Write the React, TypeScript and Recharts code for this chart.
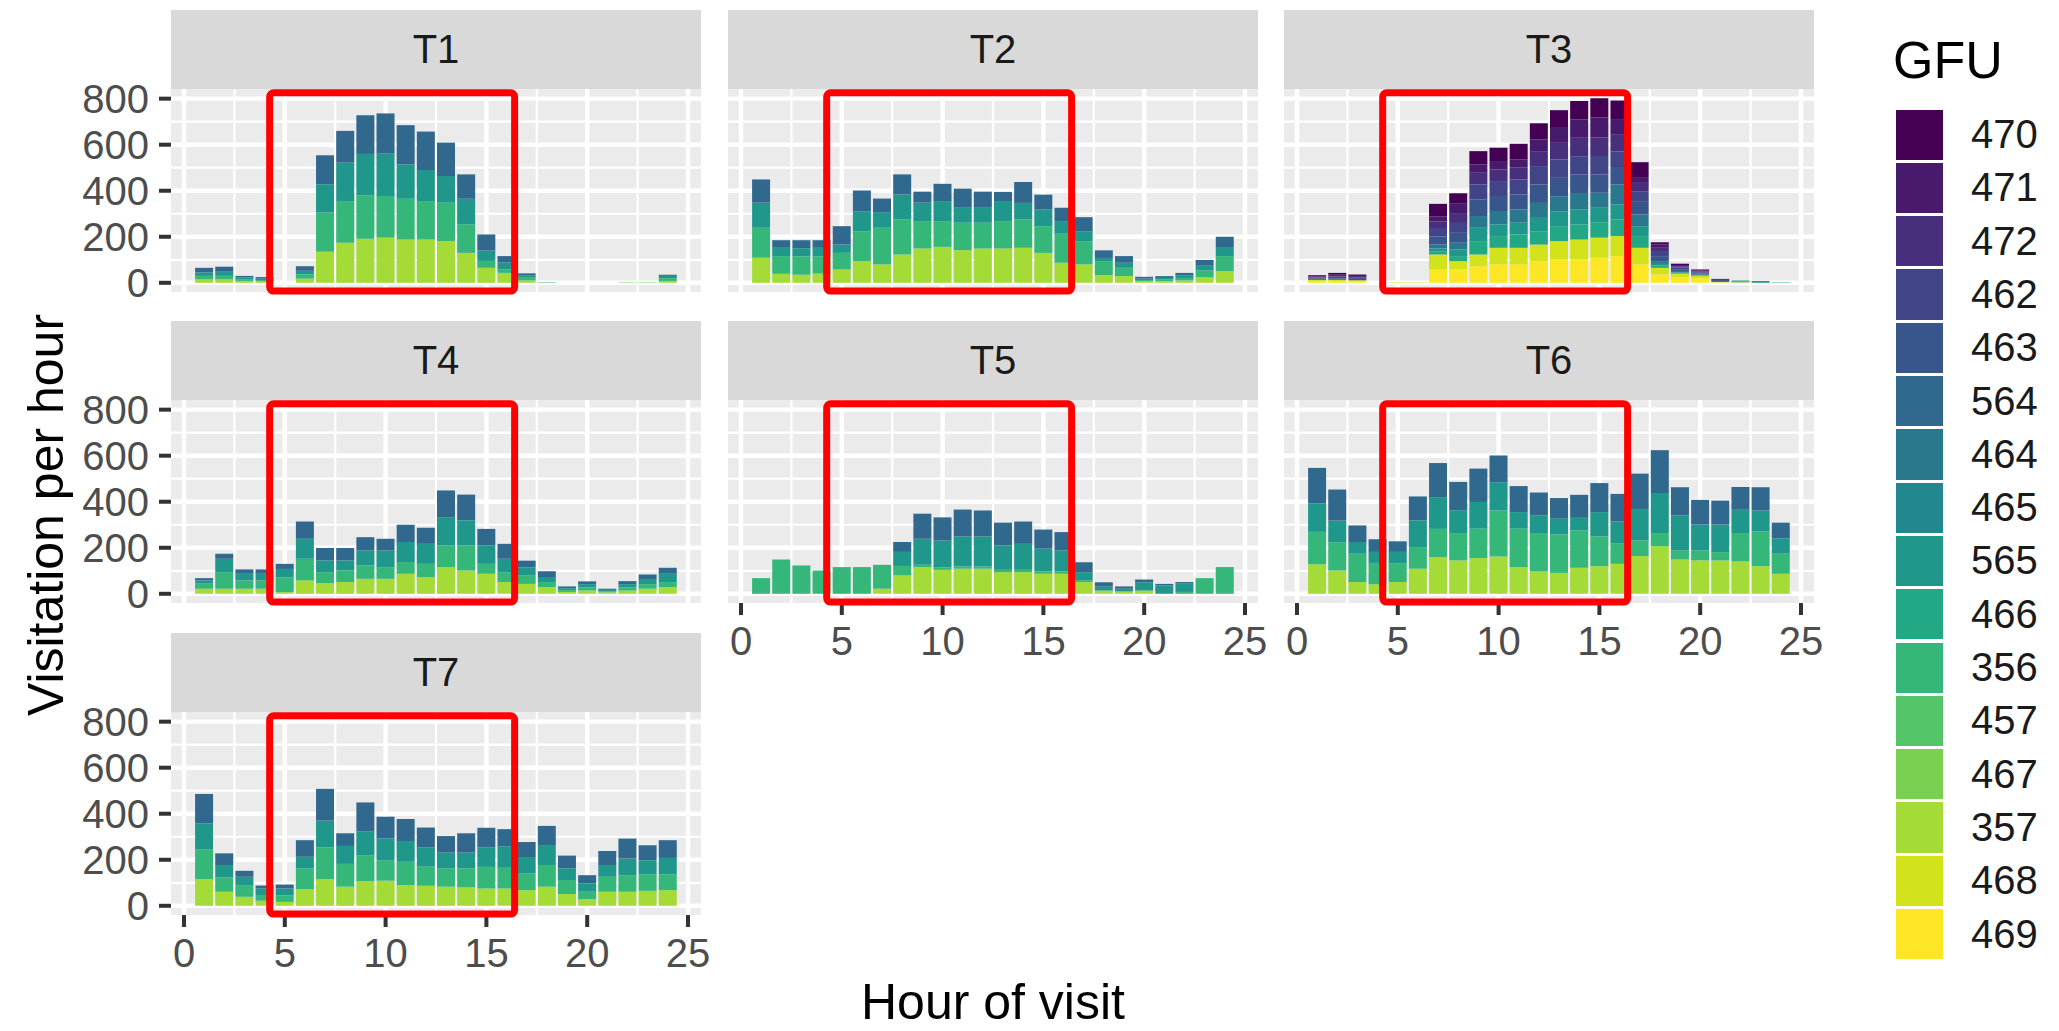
import React from 'react';
import { BarChart, Bar, XAxis, YAxis, CartesianGrid, ReferenceArea } from 'recharts';

// ---------- categories ----------
const HOURS = [1, 2, 3, 4, 5, 6, 7, 8, 9, 10, 11, 12, 13, 14, 15, 16, 17, 18, 19, 20, 21, 22, 23, 24];
const GFU_LEVELS = ['470', '471', '472', '462', '463', '564', '464', '465', '565', '466', '356', '457', '467', '357', '468', '469'];
const GFU_COLORS = ['#440154', '#481A6C', '#472F7D', '#414487', '#39568C', '#31688E', '#2A788E', '#23888E', '#1F988B', '#22A884', '#35B779', '#54C568', '#7AD151', '#A5DB36', '#D2E21B', '#FDE725'];
const PANEL_NAMES = ['T1', 'T2', 'T3', 'T4', 'T5', 'T6', 'T7'];

// ---------- tick labels ----------
const X_TICKS = [0, 5, 10, 15, 20, 25];
const X_MINOR = [2.5, 7.5, 12.5, 17.5, 22.5];
const Y_TICKS = [0, 200, 400, 600, 800];
const Y_MINOR = [100, 300, 500, 700];
const X_DOMAIN = [-0.645, 25.645];
const Y_DOMAIN = [-40, 842];
// highlighted window (data units)
const HL_X = [4.25, 16.4];
const HL_Y = [-36, 826];

// ---------- series values (visits per hour) ----------
const T1_357 = [15, 15, 8, 6, 0, 18, 135, 174, 191, 196, 188, 188, 181, 130, 65, 43, 10, 1, 0, 0, 0, 1, 1, 8];
const T1_356 = [15, 15, 8, 6, 0, 18, 170, 181, 188, 181, 177, 167, 167, 123, 30, 15, 15, 1, 0, 0, 0, 1, 1, 12];
const T1_565 = [15, 18, 7, 6, 0, 16, 123, 167, 181, 184, 149, 135, 116, 112, 45, 30, 8, 1, 0, 0, 0, 0, 0, 10];
const T1_564 = [20, 22, 7, 7, 0, 20, 126, 138, 168, 175, 171, 167, 145, 106, 70, 28, 8, 0, 0, 0, 0, 0, 0, 5];

const T2_357 = [109, 39, 35, 40, 58, 94, 80, 123, 149, 156, 142, 149, 149, 152, 130, 87, 80, 33, 29, 6, 7, 10, 24, 51];
const T2_356 = [130, 77, 80, 75, 72, 130, 159, 152, 119, 112, 119, 112, 119, 123, 116, 126, 101, 61, 36, 6, 7, 11, 30, 65];
const T2_565 = [109, 36, 35, 37, 36, 87, 68, 109, 80, 87, 68, 65, 84, 72, 72, 55, 43, 14, 22, 6, 7, 10, 20, 36];
const T2_564 = [101, 33, 35, 33, 80, 90, 59, 87, 48, 75, 80, 70, 43, 91, 65, 58, 61, 33, 29, 8, 8, 12, 25, 48];

const T3_469 = [8, 8, 6, 0, 0, 0, 58, 58, 72, 80, 80, 94, 101, 101, 109, 116, 80, 36, 25, 20, 2, 2, 0, 0];
const T3_468 = [5, 5, 5, 0, 2, 2, 65, 36, 51, 72, 72, 72, 80, 87, 87, 87, 72, 29, 15, 10, 2, 0, 0, 0];
const T3_466 = [0, 0, 0, 0, 0, 0, 14, 22, 58, 51, 58, 58, 65, 65, 65, 72, 51, 10, 3, 2, 0, 4, 0, 2];
const T3_565 = [0, 0, 0, 0, 0, 0, 12, 29, 58, 51, 51, 58, 65, 65, 65, 65, 43, 7, 3, 2, 0, 4, 4, 0];
const T3_464 = [0, 0, 0, 0, 0, 0, 17, 29, 51, 58, 58, 65, 65, 72, 65, 87, 51, 12, 5, 3, 0, 0, 4, 0];
const T3_463 = [5, 6, 6, 0, 0, 0, 36, 43, 72, 65, 65, 80, 80, 80, 80, 72, 58, 22, 8, 4, 8, 0, 0, 0];
const T3_462 = [5, 8, 7, 0, 0, 0, 36, 43, 65, 65, 65, 80, 80, 80, 80, 72, 43, 22, 8, 4, 5, 0, 0, 0];
const T3_472 = [5, 8, 6, 0, 0, 0, 29, 43, 51, 51, 51, 65, 72, 80, 80, 72, 36, 14, 5, 4, 0, 0, 0, 0];
const T3_471 = [0, 0, 0, 0, 0, 0, 22, 43, 36, 36, 36, 51, 65, 80, 87, 65, 22, 14, 5, 4, 0, 0, 0, 0];
const T3_470 = [5, 8, 6, 0, 0, 0, 54, 43, 58, 58, 68, 70, 77, 80, 84, 84, 68, 10, 6, 5, 0, 0, 0, 0];

const T4_357 = [22, 22, 22, 22, 7, 58, 46, 51, 65, 65, 87, 72, 116, 101, 87, 51, 43, 29, 8, 14, 6, 14, 22, 29];
const T4_356 = [22, 72, 36, 36, 65, 94, 48, 51, 58, 51, 51, 58, 94, 109, 43, 43, 36, 22, 8, 14, 5, 14, 20, 22];
const T4_565 = [14, 58, 29, 29, 36, 87, 51, 43, 65, 72, 87, 87, 123, 109, 80, 58, 36, 22, 8, 14, 6, 14, 22, 36];
const T4_564 = [10, 22, 19, 19, 22, 75, 54, 54, 58, 51, 75, 70, 116, 112, 72, 65, 29, 25, 8, 12, 5, 13, 20, 26];

const T5_357 = [0, 0, 0, 0, 0, 0, 22, 80, 116, 104, 109, 109, 94, 94, 87, 87, 51, 14, 10, 14, 0, 0, 0, 0];
const T5_356 = [68, 149, 123, 101, 116, 116, 104, 41, 10, 10, 10, 10, 10, 10, 10, 10, 8, 0, 0, 0, 0, 8, 68, 116];
const T5_565 = [0, 0, 0, 0, 0, 0, 0, 61, 113, 117, 130, 130, 106, 113, 99, 91, 35, 17, 12, 36, 36, 36, 0, 0];
const T5_564 = [0, 0, 0, 0, 0, 0, 0, 43, 109, 101, 117, 113, 99, 97, 83, 80, 43, 19, 10, 12, 7, 7, 0, 0];

const T6_357 = [128, 101, 51, 41, 51, 109, 159, 145, 155, 162, 116, 97, 91, 113, 120, 130, 164, 207, 149, 145, 145, 141, 120, 87];
const T6_356 = [141, 123, 123, 93, 80, 94, 123, 119, 128, 200, 167, 167, 167, 162, 129, 90, 68, 57, 39, 43, 36, 123, 151, 87];
const T6_565 = [123, 94, 51, 48, 51, 116, 138, 99, 116, 123, 72, 77, 68, 55, 106, 94, 133, 174, 152, 113, 120, 101, 91, 67];
const T6_564 = [155, 135, 72, 55, 46, 104, 148, 123, 145, 116, 113, 99, 90, 100, 126, 120, 157, 186, 123, 107, 104, 99, 101, 68];

const T7_357 = [116, 61, 39, 22, 17, 72, 116, 83, 107, 109, 90, 87, 83, 80, 75, 75, 68, 83, 51, 28, 61, 61, 65, 68];
const T7_356 = [130, 62, 51, 25, 29, 90, 138, 99, 113, 87, 101, 83, 80, 83, 94, 90, 72, 94, 61, 33, 65, 72, 72, 68];
const T7_565 = [112, 54, 36, 29, 29, 51, 116, 78, 104, 97, 87, 84, 68, 68, 84, 94, 72, 87, 51, 36, 51, 72, 61, 72];
const T7_564 = [128, 51, 26, 12, 17, 72, 138, 55, 125, 94, 99, 86, 72, 84, 86, 74, 65, 83, 55, 36, 61, 87, 65, 77];

// per-panel series tables built from the arrays above
const PANEL_SERIES: Record<string, Record<string, number[]>> = {
  T1: { '357': T1_357, '356': T1_356, '565': T1_565, '564': T1_564 },
  T2: { '357': T2_357, '356': T2_356, '565': T2_565, '564': T2_564 },
  T3: { '469': T3_469, '468': T3_468, '466': T3_466, '565': T3_565, '464': T3_464, '463': T3_463, '462': T3_462, '472': T3_472, '471': T3_471, '470': T3_470 },
  T4: { '357': T4_357, '356': T4_356, '565': T4_565, '564': T4_564 },
  T5: { '357': T5_357, '356': T5_356, '565': T5_565, '564': T5_564 },
  T6: { '357': T6_357, '356': T6_356, '565': T6_565, '564': T6_564 },
  T7: { '357': T7_357, '356': T7_356, '565': T7_565, '564': T7_564 },
};

// ---------- layout ----------
const FONT = '"Liberation Sans", Arial, Helvetica, sans-serif';
const PANEL_X = [171, 728, 1284];
const PANEL_Y = [89, 400, 712];
const PANEL_W = 530;
const PANEL_H = 203;
const STRIP_H = 79;
const AXIS_W = 110;
const AXIS_H = 75;
const RIGHT_PAD = 34;
const TOP_PAD = 30;

const colorOf = (k: string) => GFU_COLORS[GFU_LEVELS.indexOf(k)];
const STACK_ORDER = [...GFU_LEVELS].reverse(); // first level ends on top

const scaleOf = (axis: any) => {
  if (!axis || !axis.scale) return null;
  if (typeof axis.scale === 'function') return axis.scale;
  if (typeof axis.scale.map === 'function') return (v: number) => axis.scale.map(v);
  return null;
};

const makeHGen = (vals: number[]) => ({ yAxis, offset }: any) => {
  const s = scaleOf(yAxis);
  return vals.map((v) =>
    s ? s(v) : offset.top + (offset.height * (Y_DOMAIN[1] - v)) / (Y_DOMAIN[1] - Y_DOMAIN[0])
  );
};
const makeVGen = (vals: number[]) => ({ xAxis, offset }: any) => {
  const s = scaleOf(xAxis);
  return vals.map((v) =>
    s ? s(v) : offset.left + (offset.width * (v - X_DOMAIN[0])) / (X_DOMAIN[1] - X_DOMAIN[0])
  );
};

function Panel({ name, col, row, showX, showY }: { name: string; col: number; row: number; showX: boolean; showY: boolean }) {
  const series = PANEL_SERIES[name];
  const keys = STACK_ORDER.filter((k) => series[k]);
  const data = HOURS.map((h, i) => {
    const o: Record<string, number> = { hour: h };
    keys.forEach((k) => {
      o['g' + k] = series[k][i];
    });
    return o;
  });
  const left = PANEL_X[col];
  const top = PANEL_Y[row];
  return (
    <>
      <div
        style={{
          position: 'absolute',
          left,
          top: top - STRIP_H,
          width: PANEL_W,
          height: STRIP_H,
          background: '#D9D9D9',
          color: '#1A1A1A',
          fontSize: 40,
          display: 'flex',
          alignItems: 'center',
          justifyContent: 'center',
        }}
      >
        {name}
      </div>
      <div style={{ position: 'absolute', left: left - AXIS_W, top: top - TOP_PAD }}>
        <BarChart
          width={AXIS_W + PANEL_W + RIGHT_PAD}
          height={TOP_PAD + PANEL_H + AXIS_H}
          data={data}
          margin={{ top: TOP_PAD, right: RIGHT_PAD, left: showY ? 0 : AXIS_W, bottom: showX ? 0 : AXIS_H }}
        >
          <CartesianGrid
            fill="#EBEBEB"
            stroke="#FFFFFF"
            strokeWidth={2.2}
            horizontalCoordinatesGenerator={makeHGen(Y_MINOR)}
            verticalCoordinatesGenerator={makeVGen(X_MINOR)}
          />
          <CartesianGrid
            stroke="#FFFFFF"
            strokeWidth={4.4}
            horizontalCoordinatesGenerator={makeHGen(Y_TICKS)}
            verticalCoordinatesGenerator={makeVGen(X_TICKS)}
          />
          <XAxis
            type="number"
            dataKey="hour"
            domain={X_DOMAIN}
            ticks={X_TICKS}
            interval={0}
            allowDataOverflow
            hide={!showX}
            height={AXIS_H}
            axisLine={false}
            tickSize={12}
            tickMargin={12}
            tickLine={{ stroke: '#333333', strokeWidth: 4 }}
            tick={{ fontSize: 40, fill: '#4D4D4D', fontFamily: FONT }}
          />
          <YAxis
            type="number"
            domain={Y_DOMAIN}
            ticks={Y_TICKS}
            interval={0}
            allowDataOverflow
            hide={!showY}
            width={AXIS_W}
            axisLine={false}
            tickSize={12}
            tickMargin={10}
            tickLine={{ stroke: '#333333', strokeWidth: 4 }}
            tick={{ fontSize: 40, fill: '#4D4D4D', fontFamily: FONT }}
          />
          {keys.map((k) => (
            <Bar key={k} dataKey={'g' + k} stackId="s" fill={colorOf(k)} barSize={18} isAnimationActive={false} />
          ))}
          <ReferenceArea
            x1={HL_X[0]}
            x2={HL_X[1]}
            y1={HL_Y[0]}
            y2={HL_Y[1]}
            fill="none"
            fillOpacity={0}
            stroke="#FF0000"
            strokeWidth={7}
            radius={4}
            ifOverflow="visible"
            {...({ zIndex: 2000 } as any)}
          />
        </BarChart>
      </div>
    </>
  );
}

const PANEL_LAYOUT = [
  { col: 0, row: 0, showX: false, showY: true },
  { col: 1, row: 0, showX: false, showY: false },
  { col: 2, row: 0, showX: false, showY: false },
  { col: 0, row: 1, showX: false, showY: true },
  { col: 1, row: 1, showX: true, showY: false },
  { col: 2, row: 1, showX: true, showY: false },
  { col: 0, row: 2, showX: true, showY: true },
];

function Legend() {
  const top0 = 108;
  const step = 53.3;
  return (
    <>
      <div style={{ position: 'absolute', left: 1893, top: 30, fontSize: 52, color: '#000', lineHeight: '60px' }}>GFU</div>
      {GFU_LEVELS.map((g, i) => (
        <React.Fragment key={g}>
          <div
            style={{
              position: 'absolute',
              left: 1896,
              top: top0 + i * step + 1.5,
              width: 47,
              height: step - 3,
              background: GFU_COLORS[i],
            }}
          />
          <div
            style={{
              position: 'absolute',
              left: 1971,
              top: top0 + i * step,
              height: step,
              lineHeight: step + 'px',
              fontSize: 40,
              color: '#1A1A1A',
            }}
          >
            {g}
          </div>
        </React.Fragment>
      ))}
    </>
  );
}

export default function App() {
  return (
    <div
      style={{
        position: 'absolute',
        left: 0,
        top: 0,
        width: 2059,
        height: 1031,
        background: '#FFFFFF',
        fontFamily: FONT,
        overflow: 'hidden',
      }}
    >
      {PANEL_NAMES.map((n, i) => (
        <Panel key={n} name={n} {...PANEL_LAYOUT[i]} />
      ))}
      <svg width={2059} height={1031} style={{ position: 'absolute', left: 0, top: 0, pointerEvents: 'none' }}>
        <text
          x={46}
          y={515}
          transform="rotate(-90 46 515)"
          textAnchor="middle"
          dominantBaseline="central"
          fontSize={50}
          fontFamily={FONT}
          fill="#000"
        >
          Visitation per hour
        </text>
        <text x={993} y={1002} textAnchor="middle" dominantBaseline="central" fontSize={50} fontFamily={FONT} fill="#000">
          Hour of visit
        </text>
      </svg>
      <Legend />
    </div>
  );
}
